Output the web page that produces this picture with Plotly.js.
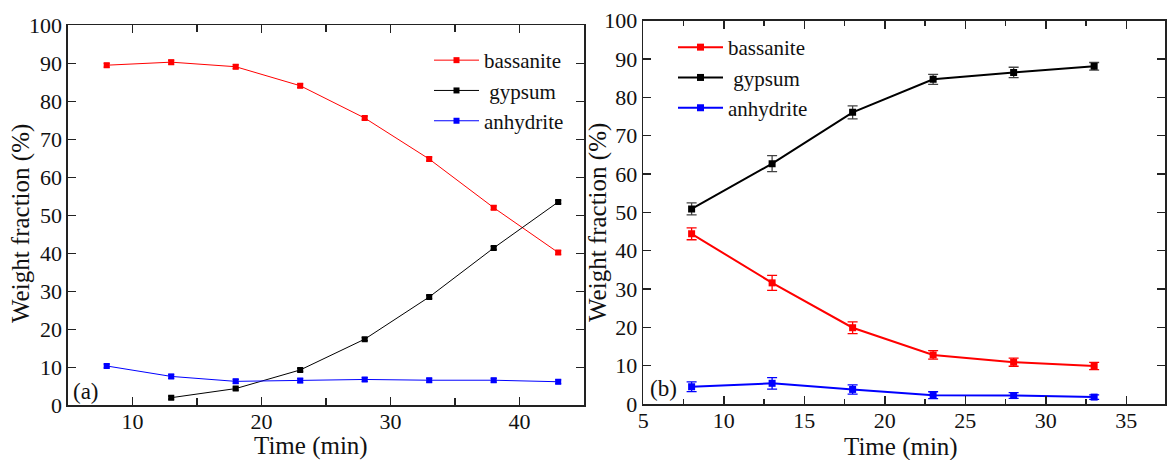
<!DOCTYPE html>
<html>
<head>
<meta charset="utf-8">
<script src="https://cdn.plot.ly/plotly-3.0.1.min.js"></script>
<style>
  html, body { margin: 0; padding: 0; background: #fff; }
  #chart { width: 1171px; height: 460px; }
</style>
</head>
<body>
<div id="chart"></div>
<script>
// Panel (a): phase fractions vs time
const timeA = [8, 13, 18, 23, 28, 33, 38, 43];
const bassaniteA = [89.5, 90.3, 89.1, 84.1, 75.6, 64.8, 52.0, 40.2];
const bassaniteErrA = [0.5, 0.5, 0.5, 0.5, 0.5, 0.5, 0.5, 0.5];
const gypsumTimeA = [13, 18, 23, 28, 33, 38, 43];
const gypsumA = [2.0, 4.4, 9.3, 17.4, 28.5, 41.4, 53.5];
const gypsumErrA = [0.4, 0.4, 0.4, 0.4, 0.4, 0.4, 0.4];
const anhydriteA = [10.35, 7.6, 6.3, 6.5, 6.8, 6.6, 6.6, 6.2];
const anhydriteErrA = [0.5, 0.5, 0.5, 0.5, 0.5, 0.5, 0.5, 0.5];

// Panel (b): phase fractions vs time
const timeB = [8, 13, 18, 23, 28, 33];
const bassaniteB = [44.4, 31.6, 19.9, 12.8, 10.9, 9.9];
const bassaniteErrB = [1.55, 1.95, 1.55, 1.1, 1.05, 0.95];
const gypsumB = [50.9, 62.7, 76.1, 84.7, 86.5, 88.1];
const gypsumErrB = [1.55, 2.1, 1.7, 1.3, 1.35, 1.0];
const anhydriteB = [4.5, 5.4, 3.8, 2.3, 2.2, 1.8];
const anhydriteErrB = [1.25, 1.5, 1.2, 0.9, 0.75, 0.6];

const seriesNames = ['bassanite', '\u00a0gypsum', 'anhydrite'];
const seriesColors = ['#ff0000', '#000000', '#0000ff'];

const W = 1171, H = 460;
const FONT = '"Liberation Serif", serif';
const px = v => v / W;
const py = v => 1 - v / H;

function series(x, y, err, i, panel, errColor) {
  const thin = panel === 1;
  return {
    type: 'scatter',
    mode: 'lines+markers',
    x: x, y: y,
    name: seriesNames[i],
    xaxis: thin ? 'x' : 'x2',
    yaxis: thin ? 'y' : 'y2',
    legend: thin ? 'legend' : 'legend2',
    line: { color: seriesColors[i], width: thin ? 1 : 2 },
    marker: { symbol: 'square', size: thin ? 6 : 7, color: seriesColors[i] },
    error_y: { type: 'data', array: err, visible: true,
               color: errColor || seriesColors[i], thickness: 1.3, width: thin ? 3 : 5 }
  };
}

const traces = [
  series(timeA, bassaniteA, bassaniteErrA, 0, 1),
  series(gypsumTimeA, gypsumA, gypsumErrA, 1, 1),
  series(timeA, anhydriteA, anhydriteErrA, 2, 1),
  series(timeB, bassaniteB, bassaniteErrB, 0, 2),
  series(timeB, gypsumB, gypsumErrB, 1, 2, '#444'),
  series(timeB, anhydriteB, anhydriteErrB, 2, 2)
];

function axis(extra) {
  return Object.assign({
    showline: true, linecolor: '#222', linewidth: 1.6,
    mirror: 'allticks', ticks: 'inside', ticklen: 8, tickwidth: 1.5, tickcolor: '#222',
    showgrid: false, zeroline: false,
    tickfont: { family: FONT, size: 22, color: '#111' }
  }, extra);
}

function label(text, x, y, size, angle) {
  return { text: text, xref: 'paper', yref: 'paper', x: px(x), y: py(y),
           xanchor: 'center', yanchor: 'middle', textangle: angle || 0,
           showarrow: false, font: { family: FONT, size: size, color: '#111' } };
}

const layout = {
  width: W, height: H,
  margin: { l: 0, r: 0, t: 0, b: 0 },
  paper_bgcolor: '#fff', plot_bgcolor: '#fff',
  font: { family: FONT, size: 22, color: '#111' },
  showlegend: true,
  xaxis: axis({
    domain: [px(68), px(584)], range: [5, 45], tick0: 0, dtick: 10, anchor: 'y',
    ticklabelstandoff: -4,
    minor: { dtick: 5, tick0: 0, ticks: 'inside', ticklen: 7, tickwidth: 1.5, tickcolor: '#222' }
  }),
  yaxis: axis({
    domain: [py(405.3), py(25.3)], range: [0, 100], tick0: 0, dtick: 10, anchor: 'x'
  }),
  xaxis2: axis({
    domain: [px(643.3), px(1165)], range: [5, 37.4], tick0: 0, dtick: 5, anchor: 'y2',
    ticklabelstandoff: -4,
    minor: { dtick: 2.5, tick0: 0, ticks: 'inside', ticklen: 5, tickwidth: 1.5, tickcolor: '#222' }
  }),
  yaxis2: axis({
    domain: [py(404), py(20.7)], range: [0, 100], tick0: 0, dtick: 10, anchor: 'x2'
  }),
  legend: {
    x: px(429), y: py(40), xanchor: 'left', yanchor: 'top', itemwidth: 45,
    bgcolor: 'rgba(0,0,0,0)', borderwidth: 0,
    font: { family: FONT, size: 21, color: '#111' }
  },
  legend2: {
    x: px(673), y: py(27), xanchor: 'left', yanchor: 'top', itemwidth: 45,
    bgcolor: 'rgba(0,0,0,0)', borderwidth: 0,
    font: { family: FONT, size: 21, color: '#111' }
  },
  annotations: [
    label('(a)', 86, 391, 23),
    label('(b)', 663, 388, 23),
    label('Time (min)', 311, 446, 25),
    label('Time (min)', 901, 447, 25),
    label('Weight fraction (%)', 21, 224, 25, -90),
    label('Weight fraction (%)', 598, 223, 25, -90)
  ]
};

Plotly.newPlot('chart', traces, layout, { staticPlot: true, displayModeBar: false });
</script>
</body>
</html>
